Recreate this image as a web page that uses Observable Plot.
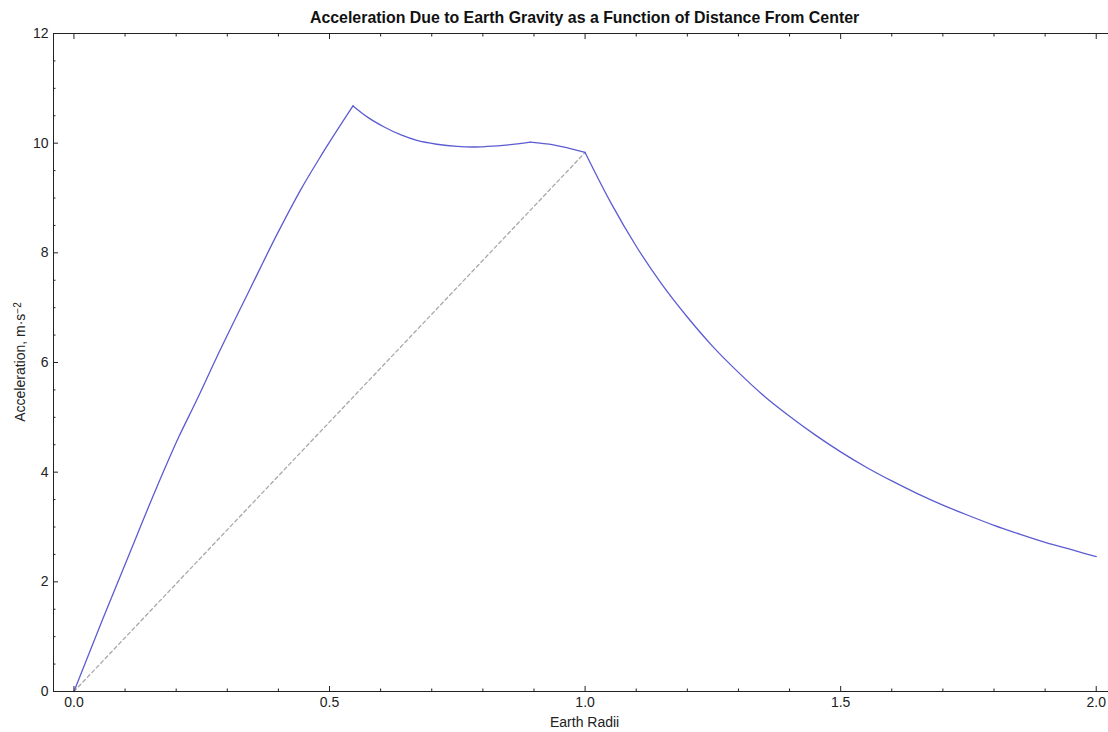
<!DOCTYPE html>
<html><head><meta charset="utf-8">
<script src="https://cdn.jsdelivr.net/npm/d3@7"></script>
<script src="https://cdn.jsdelivr.net/npm/@observablehq/plot@0.6"></script>
<style>html,body{margin:0;padding:0;background:#fff;} svg{display:block}</style>
</head><body><div id="chart"></div>
<script>
const title = "Acceleration Due to Earth Gravity as a Function of Distance From Center";
const xLabel = "Earth Radii";
const yLabel = "Acceleration, m·s";
const yLabelExp = "−2";

// Gravity profile (Earth radii -> m/s^2), split at the kinks
const coreRadius = [0, 0.055, 0.108, 0.16, 0.205, 0.24, 0.28, 0.345, 0.398, 0.443, 0.482, 0.546];
const coreAccel  = [0, 1.29, 2.50, 3.68, 4.64, 5.31, 6.11, 7.35, 8.35, 9.14, 9.75, 10.68];
const mantleRadius = [0.546, 0.575, 0.606, 0.64, 0.671, 0.71, 0.75, 0.78, 0.808, 0.85, 0.893];
const mantleAccel  = [10.68, 10.47, 10.30, 10.15, 10.05, 9.98, 9.94, 9.93, 9.94, 9.97, 10.02];
const upperRadius = [0.893, 0.938, 1.0];
const upperAccel  = [10.02, 9.97, 9.83];
const outsideRadius = [1.0, 1.05, 1.1, 1.15, 1.2, 1.25, 1.3, 1.35, 1.4, 1.45, 1.5, 1.55, 1.6, 1.65, 1.7, 1.75, 1.8, 1.85, 1.9, 1.95, 2.0];
const outsideAccel  = [9.83, 8.92, 8.12, 7.43, 6.83, 6.29, 5.82, 5.39, 5.02, 4.68, 4.37, 4.09, 3.84, 3.61, 3.40, 3.21, 3.03, 2.87, 2.72, 2.59, 2.46];

// Uniform-density reference line
const refRadius = [0, 1.0];
const refAccel = [0, 9.83];

const xMajorTicks = [0, 0.5, 1.0, 1.5, 2.0];
const xMinorTicks = [0.1, 0.2, 0.3, 0.4, 0.6, 0.7, 0.8, 0.9, 1.1, 1.2, 1.3, 1.4, 1.6, 1.7, 1.8, 1.9];
const yMajorTicks = [0, 2, 4, 6, 8, 10, 12];
const yMinorTicks = [0.5, 1, 1.5, 2.5, 3, 3.5, 4.5, 5, 5.5, 6.5, 7, 7.5, 8.5, 9, 9.5, 10.5, 11, 11.5];

const toRows = (seg, rs, gs) => rs.map((r, i) => ({seg, r, g: gs[i]}));
const curve = [
  ...toRows("core", coreRadius, coreAccel),
  ...toRows("mantle", mantleRadius, mantleAccel),
  ...toRows("upper", upperRadius, upperAccel),
  ...toRows("outside", outsideRadius, outsideAccel)
];
const ref = refRadius.map((r, i) => ({r, g: refAccel[i]}));

const font = "'Liberation Sans', Arial, sans-serif";
const plot = Plot.plot({
  width: 1108, height: 732,
  marginTop: 33, marginBottom: 41, marginLeft: 53, marginRight: 0,
  style: {fontFamily: font, fontSize: "14px", background: "#fff", color: "#222"},
  x: {domain: [-0.04, 2.024]},
  y: {domain: [0, 12]},
  marks: [
    Plot.line(ref, {x: "r", y: "g", stroke: "#a8a8a8", strokeWidth: 1.3, strokeDasharray: "3.5,3"}),
    Plot.line(curve, {x: "r", y: "g", z: "seg", stroke: "#5c5cd2", strokeWidth: 1.3, curve: "monotone-x"}),
    Plot.frame({anchor: "left", stroke: "#222"}),
    Plot.frame({anchor: "top", stroke: "#222"}),
    Plot.frame({anchor: "bottom", stroke: "#222"}),
    // bottom
    Plot.axisX({ticks: xMajorTicks, tickSize: -5, fill: "none", label: null}),
    Plot.axisX({ticks: xMinorTicks, tickSize: -2.5, fill: "none", label: null}),
    Plot.axisX({ticks: xMajorTicks, tickSize: 0, tickPadding: 6, tickFormat: d3.format(".1f"), label: null, fontSize: 14}),
    // top
    Plot.axisX({anchor: "top", ticks: xMajorTicks, tickSize: -5, fill: "none", label: null}),
    Plot.axisX({anchor: "top", ticks: xMinorTicks, tickSize: -2.5, fill: "none", label: null}),
    // left
    Plot.axisY({ticks: yMajorTicks, tickSize: -5, fill: "none", label: null}),
    Plot.axisY({ticks: yMinorTicks, tickSize: -2.5, fill: "none", label: null}),
    Plot.axisY({ticks: yMajorTicks, tickSize: 0, tickPadding: 5, tickFormat: d3.format("d"), label: null, fontSize: 14})
  ]
});

const svg = d3.select(plot);
const cx = plot.scale("x").apply(1.0);
const cy = (33 + 691) / 2;
svg.append("text").attr("x", cx).attr("y", 23).attr("text-anchor", "middle")
  .attr("font-family", font).attr("font-size", 15.9).attr("font-weight", "bold").attr("fill", "#111").text(title);
svg.append("text").attr("x", cx).attr("y", 727).attr("text-anchor", "middle")
  .attr("font-family", font).attr("font-size", 14).attr("fill", "#222").text(xLabel);
const yl = svg.append("text").attr("transform", `translate(25,${cy}) rotate(-90)`).attr("text-anchor", "middle")
  .attr("font-family", font).attr("font-size", 14).attr("fill", "#222");
yl.append("tspan").text(yLabel);
yl.append("tspan").attr("dy", "-0.45em").attr("font-size", 10).text(yLabelExp);

document.getElementById("chart").appendChild(plot);
</script>
</body></html>
